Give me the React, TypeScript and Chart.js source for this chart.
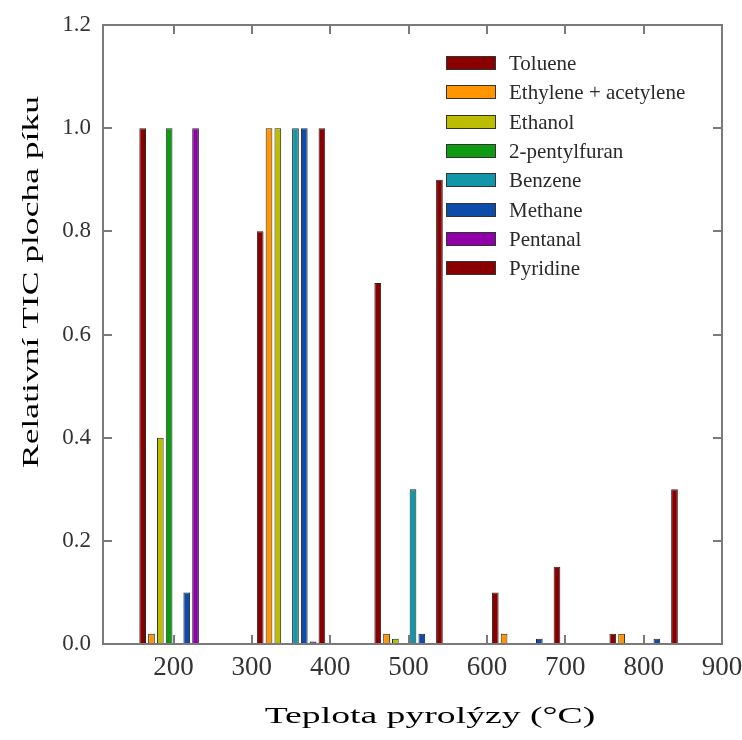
import React, { useEffect, useRef } from 'react';
import { Chart, registerables } from 'chart.js';

Chart.register(...registerables);

// ---- data ----
const temperatures = [200, 350, 500, 650, 800];
const seriesNames = [
  'Toluene',
  'Ethylene + acetylene',
  'Ethanol',
  '2-pentylfuran',
  'Benzene',
  'Methane',
  'Pentanal',
  'Pyridine',
];
const toluene = [1.0, 0.8, 0.7, 0.1, 0.02];
const ethyleneAcetylene = [0.02, 1.0, 0.02, 0.02, 0.02];
const ethanol = [0.4, 1.0, 0.01, null, null];
const pentylfuran = [1.0, null, null, null, null];
const benzene = [null, 1.0, 0.3, null, null];
const methane = [0.1, 1.0, 0.02, 0.01, 0.01];
const pentanal = [1.0, 0.005, null, null, null];
const pyridine = [null, 1.0, 0.9, 0.15, 0.3];
const seriesValues = [toluene, ethyleneAcetylene, ethanol, pentylfuran, benzene, methane, pentanal, pyridine];
const seriesColors = ['#8a0000', '#ff9500', '#bcbc00', '#0f9a14', '#1296a8', '#0d4ca8', '#9000a8', '#8a0000'];

const xTickValues = [200, 300, 400, 500, 600, 700, 800, 900];
const yTickValues = [0, 0.2, 0.4, 0.6, 0.8, 1.0, 1.2];
const xMin = 110;
const xMax = 900;
const yMin = 0;
const yMax = 1.2;

const xTitle = 'Teplota pyrolýzy (°C)';
const yTitle = 'Relativní TIC plocha píku';

const SERIF = "'Liberation Serif', 'Times New Roman', serif";

const decorPlugin = {
  id: 'decor',
  afterDatasetsDraw(chart: any) {
    const { ctx, chartArea: a, scales } = chart;
    const xs = scales.x;
    const ys = scales.y;
    ctx.save();
    // frame
    ctx.strokeStyle = '#7a7a7a';
    ctx.lineWidth = 2;
    ctx.strokeRect(a.left, a.top, a.right - a.left, a.bottom - a.top);
    // inward ticks
    const L = 9;
    ctx.beginPath();
    xs.ticks.forEach((t: any) => {
      if (t.value <= xs.min || t.value >= xs.max) return;
      const px = Math.round(xs.getPixelForValue(t.value));
      ctx.moveTo(px, a.bottom);
      ctx.lineTo(px, a.bottom - L);
      ctx.moveTo(px, a.top);
      ctx.lineTo(px, a.top + L);
    });
    ys.ticks.forEach((t: any) => {
      if (t.value <= ys.min + 1e-9 || t.value >= ys.max - 1e-9) return;
      const py = Math.round(ys.getPixelForValue(t.value));
      ctx.moveTo(a.left, py);
      ctx.lineTo(a.left + L, py);
      ctx.moveTo(a.right, py);
      ctx.lineTo(a.right - L, py);
    });
    ctx.stroke();

    // legend
    const boxX = a.left + 343;
    const boxW = 50;
    const boxH = 14;
    const rowTop = a.top + 31;
    const pitch = 29.3;
    ctx.font = `21px ${SERIF}`;
    ctx.textAlign = 'left';
    ctx.textBaseline = 'alphabetic';
    chart.data.datasets.forEach((ds: any, i: number) => {
      const y = Math.round(rowTop + i * pitch);
      ctx.fillStyle = ds.backgroundColor;
      ctx.fillRect(boxX, y, boxW, boxH);
      ctx.strokeStyle = '#333';
      ctx.lineWidth = 1;
      ctx.strokeRect(boxX + 0.5, y + 0.5, boxW - 1, boxH - 1);
      ctx.fillStyle = '#2a2a2a';
      ctx.fillText(ds.label, boxX + 63, y + boxH);
    });

    // axis titles
    ctx.fillStyle = '#000';
    ctx.font = `24px ${SERIF}`;
    ctx.textAlign = 'center';
    ctx.textBaseline = 'alphabetic';
    ctx.save();
    ctx.translate(430, 723);
    ctx.scale(1.57, 1);
    ctx.fillText(xTitle, 0, 0);
    ctx.restore();
    ctx.save();
    ctx.translate(38, 282);
    ctx.rotate(-Math.PI / 2);
    ctx.scale(1.48, 1);
    ctx.fillText(yTitle, 0, 0);
    ctx.restore();

    ctx.restore();
  },
};

export default function App() {
  const canvasRef = useRef<HTMLCanvasElement | null>(null);

  useEffect(() => {
    const canvas = canvasRef.current;
    if (!canvas) return;
    const datasets = seriesNames.map((name, i) => ({
      label: name,
      data: temperatures.map((t, j) => ({ x: t, y: seriesValues[i][j] })),
      backgroundColor: seriesColors[i],
      borderColor: '#262626',
      borderWidth: 1,
      categoryPercentage: 0.9,
      barPercentage: 0.76,
    }));
    const chart = new Chart(canvas, {
      type: 'bar',
      data: { datasets },
      plugins: [decorPlugin],
      options: {
        animation: false,
        responsive: false,
        devicePixelRatio: 1,
        layout: { padding: { top: 25, right: 20, left: 0, bottom: 0 } },
        plugins: {
          legend: { display: false },
          tooltip: { enabled: false },
        },
        scales: {
          x: {
            type: 'linear',
            min: xMin,
            max: xMax,
            offset: false,
            grid: { display: false, drawTicks: false, offset: false },
            border: { display: false },
            afterBuildTicks: (s: any) => {
              s.ticks = xTickValues.map((v) => ({ value: v }));
            },
            ticks: {
              padding: 8,
              color: '#333',
              font: { family: SERIF, size: 27 },
              maxRotation: 0,
              autoSkip: false,
              callback: (v: any) => String(v),
            },
            afterFit: (s: any) => {
              s.height = 96;
              s.paddingLeft = 0;
              s.paddingRight = 0;
            },
          },
          y: {
            min: yMin,
            max: yMax,
            grid: { display: false, drawTicks: false },
            border: { display: false },
            afterBuildTicks: (s: any) => {
              s.ticks = yTickValues.map((v) => ({ value: v }));
            },
            ticks: {
              padding: 12,
              color: '#333',
              font: { family: SERIF, size: 23 },
              callback: (v: any) => Number(v).toFixed(1),
            },
            afterFit: (s: any) => {
              s.width = 103;
              s.paddingTop = 0;
              s.paddingBottom = 0;
            },
          },
        },
      } as any,
    });
    return () => chart.destroy();
  }, []);

  return (
    <div style={{ position: 'absolute', left: 0, top: 0, width: 742, height: 740, background: '#fff' }}>
      <canvas ref={canvasRef} width={742} height={740} />
    </div>
  );
}
